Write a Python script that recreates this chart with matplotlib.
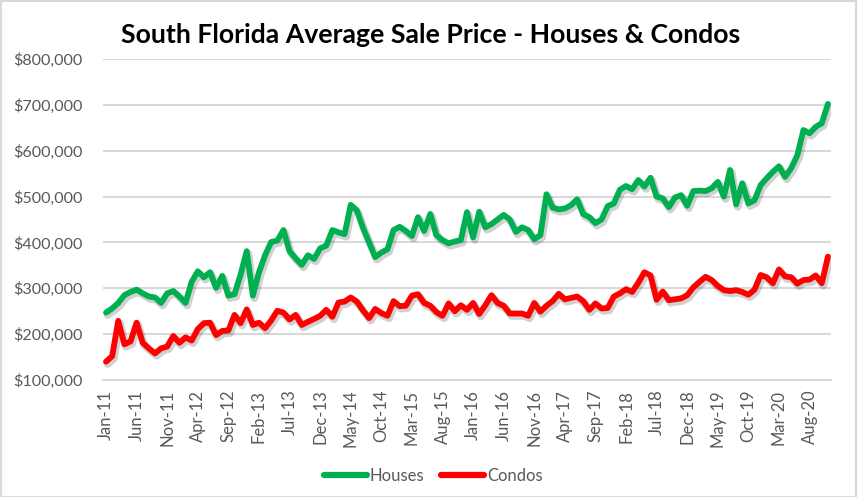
import numpy as np
import pandas as pd
import matplotlib
matplotlib.use("Agg")
import matplotlib.pyplot as plt
import matplotlib.patheffects as pe
from matplotlib.patches import Rectangle
from matplotlib.ticker import FuncFormatter

plt.rcParams['font.family'] = ['Lato', 'DejaVu Sans']

# Monthly average sale price, thousands of dollars, Jan-11 .. Nov-20
houses = [
    247, 256, 268, 285, 292, 297, 289, 282, 280, 268, 289, 294,   # 2011
    282, 268, 314, 337, 324, 335, 301, 327, 284, 287, 330, 381,   # 2012
    284, 335, 372, 401, 404, 427, 381, 365, 351, 372, 364, 387,   # 2013
    393, 427, 422, 418, 482, 470, 432, 400, 368, 378, 385, 427,   # 2014
    434, 425, 414, 455, 425, 462, 416, 405, 398, 402, 405, 466,   # 2015
    411, 467, 433, 440, 450, 460, 450, 423, 433, 427, 407, 416,   # 2016
    505, 476, 472, 474, 481, 494, 462, 455, 442, 450, 479, 485,   # 2017
    515, 523, 516, 536, 522, 541, 500, 496, 477, 498, 503, 480,   # 2018
    512, 513, 512, 518, 532, 500, 558, 483, 529, 485, 492, 525,   # 2019
    540, 554, 566, 543, 562, 590, 645, 638, 652, 660, 702,        # 2020
]
condos = [
    140, 152, 229, 178, 184, 225, 181, 169, 158, 169, 173, 196,
    181, 193, 186, 211, 224, 225, 198, 207, 208, 242, 224, 254,
    220, 225, 213, 230, 251, 247, 232, 242, 220, 227, 233, 240,
    253, 238, 269, 271, 280, 271, 252, 235, 255, 246, 240, 272,
    261, 262, 284, 287, 268, 262, 248, 240, 267, 250, 263, 253,
    268, 244, 263, 285, 268, 262, 245, 245, 245, 240, 268, 249,
    262, 272, 288, 276, 279, 282, 272, 253, 267, 256, 257, 282,
    289, 298, 292, 312, 335, 328, 275, 293, 274, 276, 278, 285,
    302, 314, 325, 318, 305, 296, 294, 296, 292, 286, 297, 329,
    324, 311, 341, 326, 324, 310, 318, 319, 328, 311, 369,
]
months = pd.date_range("2011-01-01", periods=len(houses), freq="MS").strftime("%b-%y")

x = np.arange(len(months))
fig = plt.figure(figsize=(8.58, 4.97), dpi=100)
ax = fig.add_axes([0.120, 0.2354, 0.8485, 0.6459])

shadow = [pe.SimpleLineShadow(offset=(1.2, -1.8), shadow_color='#000000', alpha=0.18, linewidth=5.5), pe.Normal()]
ax.plot(x, np.array(houses) * 1000, color='#00B050', lw=4.2, solid_capstyle='round',
        solid_joinstyle='round', label='Houses', path_effects=shadow, zorder=3)
ax.plot(x, np.array(condos) * 1000, color='#FF0000', lw=4.2, solid_capstyle='round',
        solid_joinstyle='round', label='Condos', path_effects=shadow, zorder=3)

ax.set_xlim(-0.5, len(months) - 0.5)
ax.set_ylim(100000, 800000)
ax.set_yticks(np.arange(100000, 800001, 100000))
ax.yaxis.set_major_formatter(FuncFormatter(lambda v, p: "${:,.0f}".format(v)))
ax.set_xticks(x[::5])
ax.set_xticklabels(months[::5], rotation=90)
ax.tick_params(axis='both', length=0, labelcolor='#595959', labelsize=12)
ax.tick_params(axis='y', labelsize=11.6, pad=15)
ax.tick_params(axis='x', pad=7)
ax.grid(axis='y', color='#d9d9d9', lw=1.5)
ax.set_axisbelow(True)
for s in ['top', 'right', 'left']:
    ax.spines[s].set_visible(False)
ax.spines['bottom'].set_color('#d9d9d9')
ax.spines['bottom'].set_linewidth(1.5)

fig.text(0.502, 0.929, "South Florida Average Sale Price - Houses & Condos",
         ha='center', va='center', fontsize=19.2, fontweight='bold', color='black')

leg = fig.legend(loc='center', bbox_to_anchor=(0.505, 0.043), ncol=2, frameon=False,
                 fontsize=12, handlelength=2.6, handletextpad=0.15, columnspacing=1.0)
for t in leg.get_texts():
    t.set_color('#595959')
for h in leg.get_lines():
    h.set_path_effects([])
    h.set_linewidth(4.5)

fig.patches.append(Rectangle((0.001, 0.001), 0.997, 0.996, transform=fig.transFigure,
                             fill=False, edgecolor='#d9d9d9', lw=1.5))

fig.savefig("out.png", dpi=100)
